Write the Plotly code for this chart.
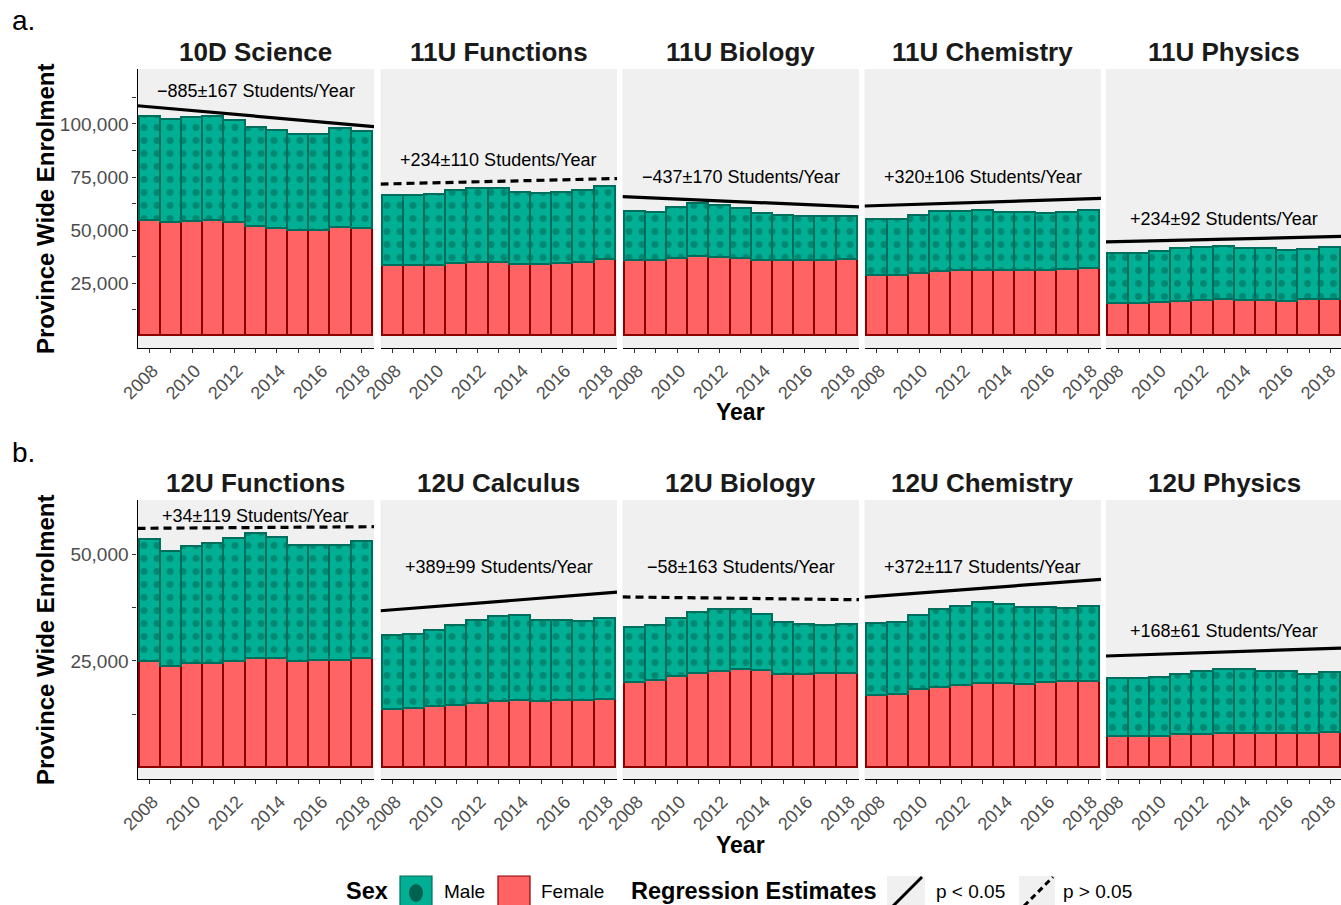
import plotly.graph_objects as go

# ---------------- data ----------------
YEARS = list(range(2008, 2019))

COURSES_A = ["10D Science", "11U Functions", "11U Biology", "11U Chemistry", "11U Physics"]
COURSES_B = ["12U Functions", "12U Calculus", "12U Biology", "12U Chemistry", "12U Physics"]

FEMALE_A = [
    [54100, 53200, 53600, 54100, 53200, 51400, 50600, 49500, 49400, 51100, 50500],
    [33000, 33000, 32900, 33800, 34600, 34600, 33600, 33600, 34000, 34600, 35700],
    [35500, 35200, 36300, 37100, 36900, 36500, 35500, 35200, 35200, 35200, 35700],
    [28400, 28400, 29400, 30300, 30500, 30800, 30500, 30700, 30800, 31000, 31800],
    [15100, 15100, 15400, 16000, 16400, 16800, 16400, 16400, 16200, 17000, 17100],
]
MALE_A = [
    [49200, 48700, 49200, 49200, 48200, 46700, 46100, 45500, 45300, 46700, 45900],
    [33200, 33200, 33800, 34500, 34700, 34600, 33700, 33400, 33500, 33900, 34400],
    [23000, 23000, 24200, 25200, 24400, 23400, 22100, 21600, 20800, 20800, 20600],
    [26200, 26200, 27400, 28100, 28100, 28000, 27700, 27200, 26800, 27000, 27300],
    [23400, 23600, 24100, 24900, 25100, 25300, 24800, 24500, 23900, 23700, 24400],
]
FEMALE_B = [
    [24800, 23700, 24200, 24400, 24800, 25500, 25400, 24700, 24900, 25100, 25500],
    [13600, 13800, 14200, 14500, 15000, 15400, 15700, 15400, 15600, 15600, 15900],
    [19900, 20200, 21300, 22000, 22400, 22800, 22600, 21700, 21700, 21900, 22000],
    [16800, 17100, 18100, 18700, 19100, 19700, 19700, 19400, 19900, 20000, 20100],
    [7100, 7200, 7300, 7700, 7700, 8000, 8000, 7900, 8000, 7900, 8100],
]
MALE_B = [
    [28600, 26800, 27600, 27900, 28700, 29300, 28400, 27200, 27000, 26900, 27300],
    [17300, 17400, 17900, 18700, 19400, 19900, 19800, 19000, 18800, 18500, 19000],
    [12800, 12900, 13600, 14300, 14600, 14200, 13100, 12200, 11700, 11400, 11400],
    [16800, 16700, 17400, 18300, 18600, 18800, 18400, 18000, 17500, 17200, 17500],
    [13600, 13600, 13800, 14100, 14700, 15000, 14900, 14600, 14400, 13800, 14200],
]

# regression estimates (students / year), their errors, fitted-line level at 2008, significance
SLOPE_A = [-885, 234, -437, 320, 234]
SE_A = [167, 110, 170, 106, 92]
FIT2008_A = [108100, 71800, 65500, 61500, 44500]
SIG_A = [True, False, True, True, True]

SLOPE_B = [34, 389, -58, 372, 168]
SE_B = [119, 99, 163, 117, 61]
FIT2008_B = [56100, 37000, 39970, 40200, 26270]
SIG_B = [False, True, False, True, True]

Y_TICKS_A = [12500, 25000, 37500, 50000, 62500, 75000, 87500, 100000, 112500]
Y_TICKS_B = [12500, 25000, 37500, 50000]

# ---------------- layout helpers ----------------
W, H = 1341, 905
FONT = "Liberation Sans, Arial, Helvetica, sans-serif"
F_FILL, F_LINE = "#FF6363", "#8B0000"
M_FILL, M_LINE, M_DOT = "#00AF94", "#006E5C", "#00624F"
PANEL_BG = "#F0F0F0"


def px(x):
    return x / W


def py(y):
    return 1 - y / H


COL_PX = [(137.5, 374), (380.5, 617), (622.5, 859), (864.5, 1101), (1106, 1341)]
ROW_PX = [(69, 348), (500, 779)]
PANEL_W = 236.5
X0 = 2007.42
XSPAN = 11.16
Y_RANGES = [[-5660, 125940], [-2650, 62720]]
LABEL_Y = [[115600, 83000, 75000, 75000, 55200], [58970, 47030, 47030, 47030, 32030]]
YTITLE_PX = [209, 640]
XTITLE_PX = [412, 845]
TAG_PX = [21, 452]

rows = [
    (COURSES_A, FEMALE_A, MALE_A, SLOPE_A, SE_A, FIT2008_A, SIG_A, Y_TICKS_A),
    (COURSES_B, FEMALE_B, MALE_B, SLOPE_B, SE_B, FIT2008_B, SIG_B, Y_TICKS_B),
]

fig = go.Figure()
annotations = []
shapes = []
layout_axes = {}

for r, (courses, fem, mal, slopes, ses, fits, sigs, yticks) in enumerate(rows):
    for c in range(5):
        idx = r * 5 + c + 1
        xa = "x" if idx == 1 else f"x{idx}"
        ya = "y" if idx == 1 else f"y{idx}"
        xl, xr = COL_PX[c]
        yt, yb = ROW_PX[r]
        x_end = X0 + XSPAN * (xr - xl) / PANEL_W

        fig.add_trace(go.Bar(
            x=YEARS, y=fem[c], xaxis=xa, yaxis=ya, width=1,
            marker=dict(color=F_FILL, line=dict(color=F_LINE, width=1.6)),
            showlegend=False, hoverinfo="skip"))
        fig.add_trace(go.Bar(
            x=YEARS, y=mal[c], xaxis=xa, yaxis=ya, width=1,
            marker=dict(color=M_FILL, line=dict(color=M_LINE, width=1.6),
                        pattern=dict(shape=".", fgcolor=M_DOT, bgcolor=M_FILL,
                                     size=13, solidity=0.22, fillmode="overlay")),
            showlegend=False, hoverinfo="skip"))

        lx = [X0, X0 + XSPAN]
        ly = [fits[c] + slopes[c] * (x - 2008) for x in lx]
        fig.add_trace(go.Scatter(
            x=lx, y=ly, xaxis=xa, yaxis=ya, mode="lines",
            line=dict(color="black", width=3.2, dash="solid" if sigs[c] else "8px,5px"),
            showlegend=False, hoverinfo="skip"))

        sign = "\u2212" if slopes[c] < 0 else "+"
        annotations.append(dict(
            x=2013, y=LABEL_Y[r][c], xref=xa, yref=ya,
            text=f"{sign}{abs(slopes[c])}\u00b1{ses[c]} Students/Year",
            showarrow=False, font=dict(family=FONT, size=18, color="black"),
            xanchor="center", yanchor="middle"))

        # strip title
        annotations.append(dict(
            x=px((xl + xl + PANEL_W) / 2), y=py(yt - 17), xref="paper", yref="paper",
            text=f"<b>{courses[c]}</b>", showarrow=False,
            font=dict(family=FONT, size=26, color="#1A1A1A"),
            xanchor="center", yanchor="middle"))

        ticktext_x = [str(y) if y % 2 == 0 else "" for y in YEARS]
        layout_axes["xaxis" if idx == 1 else f"xaxis{idx}"] = dict(
            domain=[px(xl), px(xr)], anchor=ya, range=[X0, x_end], automargin=False,
            showgrid=False, zeroline=False, showline=True, linecolor="black", linewidth=1.3,
            ticks="outside", ticklen=4, tickwidth=1, tickcolor="#333333",
            tickvals=YEARS, ticktext=ticktext_x, tickangle=-45,
            ticklabelshift=3 if c < 4 else 0,
            tickfont=dict(family=FONT, size=18, color="#4D4D4D"), fixedrange=True)
        yax = dict(
            domain=[py(yb), py(yt)], anchor=xa, range=Y_RANGES[r], automargin=False,
            showgrid=False, zeroline=False, fixedrange=True)
        if c == 0:
            yax.update(showline=True, linecolor="black", linewidth=1.3,
                       ticks="outside", ticklen=4, tickwidth=1, tickcolor="#333333",
                       tickvals=yticks,
                       ticktext=[f"{v:,}" if v % 25000 == 0 else "" for v in yticks],
                       tickfont=dict(family=FONT, size=19, color="#4D4D4D"))
        else:
            yax.update(showline=False, showticklabels=False, ticks="")
        layout_axes["yaxis" if idx == 1 else f"yaxis{idx}"] = yax

    annotations.append(dict(
        x=px(45), y=py(YTITLE_PX[r]), xref="paper", yref="paper",
        text="<b>Province Wide Enrolment</b>", textangle=-90, showarrow=False,
        font=dict(family=FONT, size=24, color="black"),
        xanchor="center", yanchor="middle"))
    annotations.append(dict(
        x=px(740), y=py(XTITLE_PX[r]), xref="paper", yref="paper",
        text="<b>Year</b>", showarrow=False, font=dict(family=FONT, size=23, color="black"),
        xanchor="center", yanchor="middle"))
    annotations.append(dict(
        x=px(10), y=py(TAG_PX[r]), xref="paper", yref="paper",
        text="a." if r == 0 else "b.", showarrow=False,
        font=dict(family=FONT, size=28, color="black"),
        xanchor="left", yanchor="middle"))

# ---------------- legend (drawn) ----------------
LEG_Y = 891


def ptext(x, text, size, bold=False):
    annotations.append(dict(
        x=px(x), y=py(LEG_Y), xref="paper", yref="paper",
        text=f"<b>{text}</b>" if bold else text, showarrow=False,
        font=dict(family=FONT, size=size, color="black"),
        xanchor="left", yanchor="middle"))


ptext(344, "Sex", 23.5, True)
shapes.append(dict(type="rect", xref="paper", yref="paper",
                   x0=px(400), x1=px(432), y0=py(912), y1=py(876),
                   fillcolor=M_FILL, line=dict(color=M_LINE, width=1.2)))
shapes.append(dict(type="circle", xref="paper", yref="paper",
                   x0=px(409), x1=px(423), y0=py(902), y1=py(884),
                   fillcolor=M_DOT, line=dict(width=0)))
ptext(442, "Male", 19)
shapes.append(dict(type="rect", xref="paper", yref="paper",
                   x0=px(498), x1=px(530), y0=py(912), y1=py(876),
                   fillcolor=F_FILL, line=dict(color=F_LINE, width=1.2)))
ptext(539, "Female", 19)
ptext(629, "Regression Estimates", 23.5, True)
shapes.append(dict(type="rect", xref="paper", yref="paper",
                   x0=px(887), x1=px(925), y0=py(912), y1=py(876),
                   fillcolor=PANEL_BG, line=dict(width=0)))
shapes.append(dict(type="line", xref="paper", yref="paper",
                   x0=px(893), x1=px(922), y0=py(906), y1=py(877),
                   line=dict(color="black", width=3)))
ptext(934, "p &lt; 0.05", 19)
shapes.append(dict(type="rect", xref="paper", yref="paper",
                   x0=px(1019), x1=px(1055), y0=py(912), y1=py(876),
                   fillcolor=PANEL_BG, line=dict(width=0)))
shapes.append(dict(type="line", xref="paper", yref="paper",
                   x0=px(1024), x1=px(1053), y0=py(906), y1=py(877),
                   line=dict(color="black", width=3, dash="6px,4px")))
ptext(1061, "p &gt; 0.05", 19)

fig.update_layout(
    width=W, height=H, margin=dict(l=0, r=0, t=0, b=0, autoexpand=False),
    paper_bgcolor="white", plot_bgcolor=PANEL_BG,
    barmode="stack", bargap=0, showlegend=False,
    annotations=annotations, shapes=shapes,
    font=dict(family=FONT),
    **layout_axes)

fig.write_html(
    "out.html",
    config={"displayModeBar": False},
    post_script="document.body.style.margin='0';document.body.style.overflow='hidden';")
